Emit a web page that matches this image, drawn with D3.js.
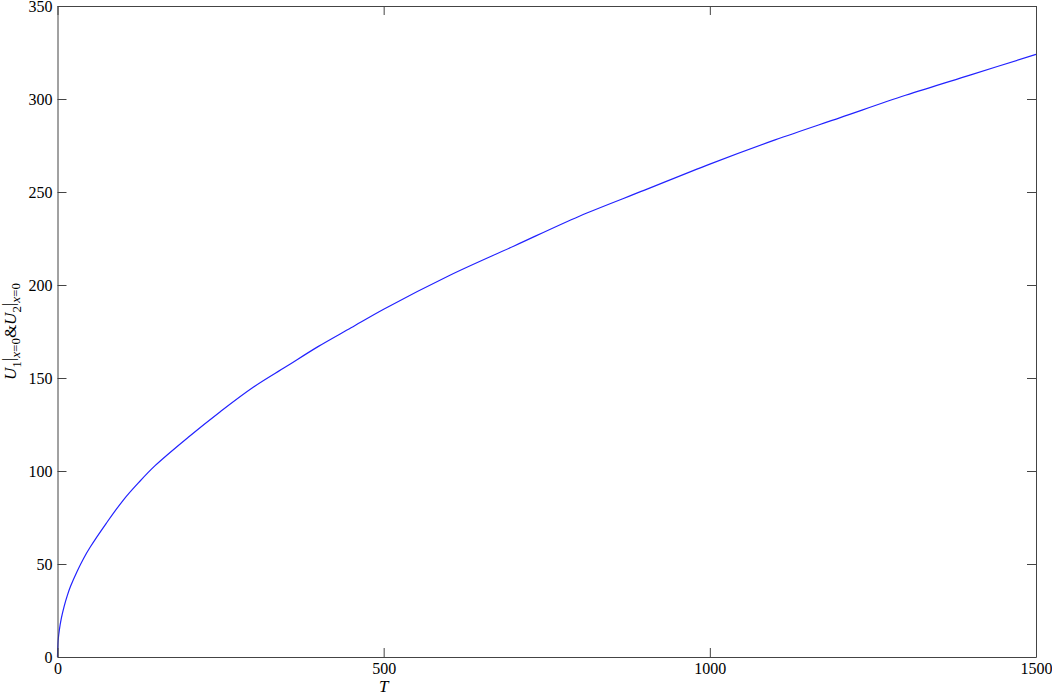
<!DOCTYPE html>
<html>
<head>
<meta charset="utf-8">
<script src="https://cdn.jsdelivr.net/npm/d3@7"></script>
<style>
  body { margin: 0; background: #fff; }
  svg text { font-family: "Liberation Serif", "DejaVu Serif", serif; fill: #000; }
</style>
</head>
<body>
<svg id="chart" width="1052" height="695"></svg>
<script>
// values
const tValues = [0, 1, 3, 6, 10, 15, 20, 30, 40, 50, 75, 100, 125, 150, 200, 250, 300, 350, 400, 450, 500,
  600, 700, 800, 900, 1000, 1100, 1200, 1300, 1400, 1500];
const uValues = [0, 9, 15, 21, 27, 33, 38, 46, 53, 59, 72, 84, 94, 103, 118, 132, 145, 156, 167, 177, 187,
  205, 221, 237, 251, 265, 278, 290, 302, 313, 324];
const xTicks = [0, 500, 1000, 1500];
const yTicks = [0, 50, 100, 150, 200, 250, 300, 350];

const margin = { top: 6, right: 16, bottom: 38, left: 57.5 };
const width = 1052, height = 695;
const innerW = width - margin.left - margin.right;
const innerH = height - margin.top - margin.bottom;

const svg = d3.select("#chart");
const g = svg.append("g").attr("transform", `translate(${margin.left},${margin.top})`);

const x = d3.scaleLinear([0, 1500], [0, innerW]);
const y = d3.scaleLinear([0, 350], [innerH, 0]);

const data = tValues.map((t, i) => ({ t, u: uValues[i] }));

// curve
const line = d3.line()
  .x(d => x(d.t))
  .y(d => y(d.u))
  .curve(d3.curveCatmullRom.alpha(0.5));
g.append("path")
  .datum(data)
  .attr("fill", "none")
  .attr("stroke", "#2222ff")
  .attr("stroke-width", 1.2)
  .attr("d", line);

// axes, ticks inward on all four sides
const tickLen = 9;
const fmt = d3.format("d");
const styleAxis = sel => {
  sel.attr("font-family", "Liberation Serif").attr("font-size", 16);
  sel.select(".domain").attr("stroke", "#444");
  sel.selectAll(".tick line").attr("stroke", "#444");
  sel.selectAll("text").attr("fill", "#000");
};
g.append("g").attr("transform", `translate(0,${innerH})`)
  .call(d3.axisBottom(x).tickValues(xTicks).tickFormat(fmt).tickSizeInner(-tickLen).tickSizeOuter(0).tickPadding(6))
  .call(styleAxis);
g.append("g")
  .call(d3.axisTop(x).tickValues(xTicks).tickSizeInner(-tickLen).tickSizeOuter(0).tickFormat(""))
  .call(styleAxis);
g.append("g")
  .call(d3.axisLeft(y).tickValues(yTicks).tickFormat(fmt).tickSizeInner(-tickLen).tickSizeOuter(0).tickPadding(5))
  .call(styleAxis);
g.append("g").attr("transform", `translate(${innerW},0)`)
  .call(d3.axisRight(y).tickValues(yTicks).tickSizeInner(-tickLen).tickSizeOuter(0).tickFormat(""))
  .call(styleAxis);

// x label (sits under the 500 tick in the original)
svg.append("text")
  .attr("x", margin.left + x(500)).attr("y", 692)
  .attr("text-anchor", "middle")
  .style("font-size", "17px").style("font-style", "italic")
  .text("T");

// y label
const yl = svg.append("text")
  .attr("transform", `translate(16,${margin.top + innerH / 2}) rotate(-90)`)
  .attr("text-anchor", "middle")
  .style("font-size", "17px");
yl.append("tspan").style("font-style", "italic").text("U");
yl.append("tspan").attr("dy", 5).style("font-size", "13px").text("1");
yl.append("tspan").attr("dy", -7).text("|");
yl.append("tspan").attr("dy", 6).style("font-size", "13px").style("font-style", "italic").text("x");
yl.append("tspan").style("font-size", "13px").text("=0");
yl.append("tspan").attr("dy", -4).text("&");
yl.append("tspan").style("font-style", "italic").text("U");
yl.append("tspan").attr("dy", 5).style("font-size", "13px").text("2");
yl.append("tspan").attr("dy", -7).text("|");
yl.append("tspan").attr("dy", 6).style("font-size", "13px").style("font-style", "italic").text("x");
yl.append("tspan").style("font-size", "13px").text("=0");
</script>
</body>
</html>
